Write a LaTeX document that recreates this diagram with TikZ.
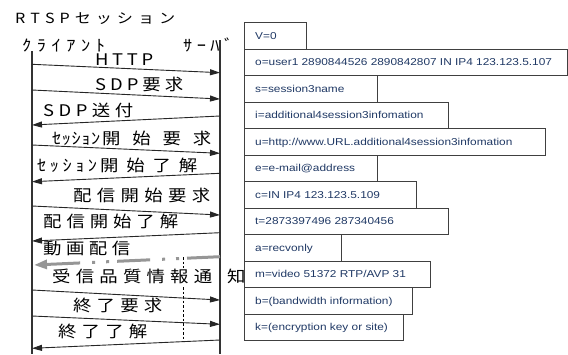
\documentclass[tikz,border=0pt]{standalone}
\usepackage{fontspec}
\usepackage{graphicx}
\usetikzlibrary{arrows.meta}
\newfontfamily\jpf{Noto Sans CJK JP}
\newfontfamily\arf{Liberation Sans}
\definecolor{sdpblue}{RGB}{31,56,100}
\definecolor{flowgray}{RGB}{150,150,150}
\newcommand\sprsc{1.15}
\makeatletter
\newcommand\sprtxt[2]{\makebox[#1][s]{\def\sprsep{}\@tfor\sprch:=#2\do{\sprsep\scalebox{\sprsc}[1]{\sprch}\def\sprsep{\hfil}}}}
\makeatother
\tikzset{
  lbl/.style={anchor=base west, inner sep=0pt, font=\jpf\fontsize{16}{16}\selectfont},
  ttl/.style={anchor=base west, inner sep=0pt, font=\jpf\fontsize{14}{14}\selectfont},
  msg/.style={draw=black!85, line width=0.9pt, -{Triangle[length=10pt,width=6pt]}},
  life/.style={draw=black!80, line width=1.2pt},
  flow/.style={draw=flowgray, line width=3pt, dash pattern=on 33pt off 8pt on 3pt off 11pt on 3pt off 12pt, -{Triangle[length=13pt,width=9pt]}},
  guide/.style={draw=black, line width=0.6pt, dash pattern=on 2.5pt off 2pt},
  sdpbox/.style={draw=black!75, line width=0.9pt, anchor=north west, minimum height=26.5pt, inner sep=0pt},
  sdptxt/.style={anchor=base west, inner sep=0pt, text=sdpblue, font=\arf\fontsize{10}{12}\selectfont}
}
\newcommand\sdps[1]{\scalebox{1.185}[1]{#1}}
\begin{document}
\begin{tikzpicture}[x=1pt,y=-1pt]
\useasboundingbox (0,0) rectangle (568,354);

% titles
\node[ttl] (title) at (15,23) {\sprtxt{160pt}{RTSPセッション}};
\node[lbl] (client) at (22,51) {\sprtxt{83pt}{ｸﾗｲｱﾝﾄ}};
\node[lbl] (server) at (183,51) {\sprtxt{50pt}{ｻｰﾊﾞ}};

% lifelines
\coordinate (cTop) at (32,51);
\coordinate (cBot) at (32,354);
\coordinate (sTop) at (220,40);
\coordinate (sBot) at (220,354);
\draw[life] (cTop) -- (cBot);
\draw[life] (sTop) -- (sBot);

% message endpoints
\coordinate (a1) at (32,64.3);   \coordinate (b1) at (220,72.7);
\coordinate (a2) at (32,90);     \coordinate (b2) at (220,99);
\coordinate (b3) at (220,116);   \coordinate (a3) at (32,125);
\coordinate (a4) at (32,145);    \coordinate (b4) at (220,153.3);
\coordinate (b5) at (220,173.3); \coordinate (a5) at (32,181.7);
\coordinate (a6) at (32,206);    \coordinate (b6) at (220,215);
\coordinate (b7) at (220,232.7); \coordinate (a7) at (32,241);
\coordinate (b8) at (220,256.7); \coordinate (a8) at (34,265);
\coordinate (a9) at (32,290);    \coordinate (b9) at (220,300);
\coordinate (a10) at (32,316);   \coordinate (b10) at (220,324.3);
\coordinate (b11) at (220,340);  \coordinate (a11) at (32,348.3);

% dashed guide
\coordinate (g1) at (183,257); \coordinate (g2) at (183,268);
\coordinate (g3) at (183,287); \coordinate (g4) at (183,340);
\draw[guide] (g1) -- (g2);
\draw[guide] (g3) -- (g4);

\draw[msg] (a1) -- (b1);
\draw[msg] (a2) -- (b2);
\draw[msg] (b3) -- (a3);
\draw[msg] (a4) -- (b4);
\draw[msg] (b5) -- (a5);
\draw[msg] (a6) -- (b6);
\draw[msg] (b7) -- (a7);
\draw[flow] (b8) -- (a8);
\draw[msg] (a9) -- (b9);
\draw[msg] (a10) -- (b10);
\draw[msg] (b11) -- (a11);

% labels
\node[lbl] (l1) at (95,65) {\sprtxt{58pt}{HTTP}};
\node[lbl] (l2) at (95,90) {\sprtxt{88pt}{SDP要求}};
\node[lbl] (l3) at (43,116) {\sprtxt{90pt}{SDP送付}};
\node[lbl] (l4) at (52,144) {\sprtxt{48pt}{ｾｯｼｮﾝ}\hspace{2pt}\sprtxt{109pt}{開始要求}};
\node[lbl] (l5) at (37,171) {\sprtxt{60pt}{ｾｯｼｮﾝ}\hspace{3pt}\sprtxt{97pt}{開始了解}};
\node[lbl] (l6) at (73,201) {\sprtxt{137pt}{配信開始要求}};
\node[lbl] (l7) at (43,227) {\sprtxt{135pt}{配信開始了解}};
\node[lbl] (l8) at (43,254) {\sprtxt{87pt}{動画配信}};
\node[lbl] (l9) at (52,282) {\sprtxt{160pt}{受信品質情報通}\hspace{15pt}\scalebox{1.15}[1]{知}};
\node[lbl] (l10) at (73,311) {\sprtxt{89pt}{終了要求}};
\node[lbl] (l11) at (58,337) {\sprtxt{89pt}{終了了解}};

% SDP boxes
\node[sdpbox, minimum width=62pt]  (bv) at (244,22) {};
\node[sdpbox, minimum width=323pt] (bo) at (244,48.5) {};
\node[sdpbox, minimum width=133pt] (bs) at (244,75) {};
\node[sdpbox, minimum width=204pt] (bi) at (244,101.5) {};
\node[sdpbox, minimum width=301pt] (bu) at (244,128) {};
\node[sdpbox, minimum width=133pt] (be) at (244,154.5) {};
\node[sdpbox, minimum width=172pt] (bc) at (244,181) {};
\node[sdpbox, minimum width=204pt] (bt) at (244,207.5) {};
\node[sdpbox, minimum width=97pt]  (ba) at (244,234) {};
\node[sdpbox, minimum width=186pt] (bm) at (244,260.5) {};
\node[sdpbox, minimum width=168pt] (bb) at (244,287) {};
\node[sdpbox, minimum width=159pt] (bk) at (244,313.5) {};

\node[sdptxt] (tv) at ([xshift=11pt,yshift=-3.7pt]bv.west) {\sdps{V=0}};
\node[sdptxt] (to) at ([xshift=11pt,yshift=-3.7pt]bo.west) {\sdps{o=user1 2890844526 2890842807 IN IP4 123.123.5.107}};
\node[sdptxt] (ts) at ([xshift=11pt,yshift=-3.7pt]bs.west) {\sdps{s=session3name}};
\node[sdptxt] (ti) at ([xshift=11pt,yshift=-3.7pt]bi.west) {\sdps{i=additional4session3infomation}};
\node[sdptxt] (tu) at ([xshift=11pt,yshift=-3.7pt]bu.west) {\sdps{u=http://www.URL.additional4session3infomation}};
\node[sdptxt] (te) at ([xshift=11pt,yshift=-3.7pt]be.west) {\sdps{e=e-mail@address}};
\node[sdptxt] (tc) at ([xshift=11pt,yshift=-3.7pt]bc.west) {\sdps{c=IN IP4 123.123.5.109}};
\node[sdptxt] (tt) at ([xshift=11pt,yshift=-3.7pt]bt.west) {\sdps{t=2873397496 287340456}};
\node[sdptxt] (ta) at ([xshift=11pt,yshift=-3.7pt]ba.west) {\sdps{a=recvonly}};
\node[sdptxt] (tm) at ([xshift=11pt,yshift=-3.7pt]bm.west) {\sdps{m=video 51372 RTP/AVP 31}};
\node[sdptxt] (tb) at ([xshift=11pt,yshift=-3.7pt]bb.west) {\sdps{b=(bandwidth information)}};
\node[sdptxt] (tk) at ([xshift=11pt,yshift=-3.7pt]bk.west) {\sdps{k=(encryption key or site)}};
\end{tikzpicture}
\end{document}
